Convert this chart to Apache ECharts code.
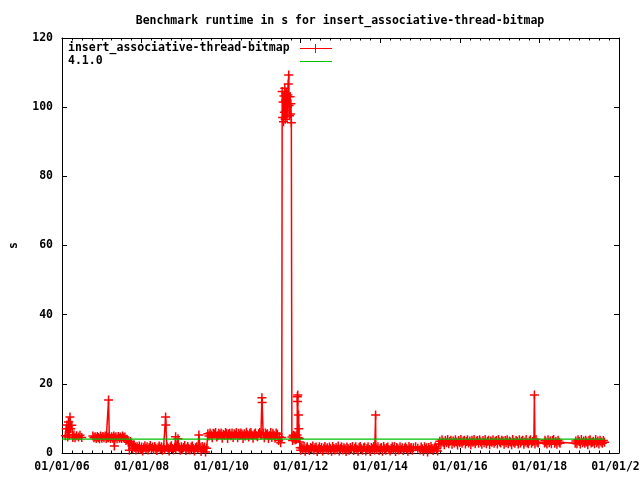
<!DOCTYPE html>
<html><head><meta charset="utf-8">
<script src="https://cdn.jsdelivr.net/npm/echarts@6/dist/echarts.min.js"></script>
<style>html,body{margin:0;padding:0;background:#fff}#c{width:640px;height:480px}</style>
</head><body><div id="c"></div>
<script>
const titleText = 'Benchmark runtime in s for insert_associative-thread-bitmap';
const seriesName = 'insert_associative-thread-bitmap';
const baselineName = '4.1.0';
const yAxisName = 's';
const xTickYears = [2006, 2008, 2010, 2012, 2014, 2016, 2018, 2020];
const xTickLabels = ['01/01/06', '01/01/08', '01/01/10', '01/01/12', '01/01/14', '01/01/16', '01/01/18', '01/01/20'];
const yTickValues = [0, 20, 40, 60, 80, 100, 120];

const runDates = [
  '2006-02-01','2006-02-08','2006-02-15','2006-02-22','2006-03-01','2006-03-08','2006-03-15','2006-03-22',
  '2006-04-01','2006-04-10','2006-04-20','2006-05-01','2006-05-15','2006-06-01','2006-06-15','2006-07-01','2006-08-01',
  '2006-10-11','2006-10-21','2006-11-01','2006-11-11','2006-11-21','2006-12-01','2006-12-11','2006-12-21',
  '2007-01-01','2007-01-11','2007-01-21','2007-02-01','2007-02-11','2007-02-21','2007-03-01','2007-03-04','2007-03-11','2007-03-21',
  '2007-04-01','2007-04-11','2007-04-21','2007-04-26','2007-05-01','2007-05-11','2007-05-21','2007-06-01','2007-06-11','2007-06-21',
  '2007-07-01','2007-07-11','2007-07-21','2007-08-01','2007-08-11','2007-08-21','2007-09-01','2007-09-11','2007-09-21','2007-10-01','2007-10-11','2007-10-21',
  '2007-11-01','2007-11-11','2007-11-21','2007-12-01','2007-12-11','2007-12-21',
  '2008-01-01','2008-01-11','2008-01-21','2008-02-01','2008-02-11','2008-02-21','2008-03-01','2008-03-11','2008-03-21','2008-04-01','2008-04-11','2008-04-21',
  '2008-05-01','2008-05-11','2008-05-21','2008-06-01','2008-06-11','2008-06-21','2008-07-01','2008-07-11','2008-07-21','2008-08-01','2008-08-09','2008-08-11','2008-08-21',
  '2008-09-01','2008-09-11','2008-09-21','2008-10-01','2008-10-11','2008-10-21','2008-11-01','2008-11-09','2008-11-11','2008-11-21','2008-12-01','2008-12-11','2008-12-21',
  '2009-01-01','2009-01-11','2009-01-21','2009-02-01','2009-02-11','2009-02-21','2009-03-01','2009-03-11','2009-03-21','2009-04-01','2009-04-11','2009-04-21',
  '2009-05-01','2009-05-11','2009-05-21','2009-06-01','2009-06-11','2009-06-21','2009-07-01','2009-07-11','2009-07-21','2009-08-01','2009-08-11','2009-08-21',
  '2009-09-01','2009-09-11','2009-09-21','2009-10-01','2009-10-11','2009-10-21','2009-11-01','2009-11-11','2009-11-21','2009-12-01','2009-12-11','2009-12-21',
  '2010-01-01','2010-01-11','2010-01-21','2010-02-01','2010-02-11','2010-02-21','2010-03-01','2010-03-11','2010-03-21','2010-04-01','2010-04-11','2010-04-21',
  '2010-05-01','2010-05-11','2010-05-21','2010-06-01','2010-06-11','2010-06-21','2010-07-01','2010-07-11','2010-07-21','2010-08-01','2010-08-11','2010-08-21',
  '2010-09-01','2010-09-11','2010-09-21','2010-10-01','2010-10-11','2010-10-21','2010-11-01','2010-11-11','2010-11-21','2010-12-01','2010-12-11','2010-12-21',
  '2011-01-01','2011-01-10','2011-01-12','2011-01-21','2011-02-01','2011-02-11','2011-02-21','2011-03-01','2011-03-11','2011-03-21',
  '2011-04-01','2011-04-11','2011-04-21','2011-05-01','2011-05-11','2011-05-21','2011-06-01','2011-06-11','2011-06-21','2011-07-01','2011-07-11',
  '2011-07-15','2011-07-19','2011-07-23','2011-07-27','2011-07-31','2011-08-04','2011-08-08','2011-08-12','2011-08-16','2011-08-20','2011-08-24',
  '2011-08-28','2011-09-01','2011-09-05','2011-09-09','2011-09-13','2011-09-17','2011-09-21','2011-09-25','2011-09-29','2011-10-03','2011-10-07',
  '2011-10-12','2011-10-18','2011-10-24','2011-10-30','2011-11-05','2011-11-11','2011-11-17','2011-11-23','2011-11-29',
  '2011-12-01','2011-12-03','2011-12-05','2011-12-08','2011-12-12','2011-12-15','2011-12-19','2011-12-23','2011-12-27',
  '2012-01-01','2012-01-11','2012-01-21','2012-02-01','2012-02-11','2012-02-21','2012-03-01','2012-03-11','2012-03-21','2012-04-01','2012-04-11','2012-04-21',
  '2012-05-01','2012-05-11','2012-05-21','2012-06-01','2012-06-11','2012-06-21','2012-07-01','2012-07-11','2012-07-21','2012-08-01','2012-08-11','2012-08-21',
  '2012-09-01','2012-09-11','2012-09-21','2012-10-01','2012-10-11','2012-10-21','2012-11-01','2012-11-11','2012-11-21','2012-12-01','2012-12-11','2012-12-21',
  '2013-01-01','2013-01-11','2013-01-21','2013-02-01','2013-02-11','2013-02-21','2013-03-01','2013-03-11','2013-03-21','2013-04-01','2013-04-11','2013-04-21',
  '2013-05-01','2013-05-11','2013-05-21','2013-06-01','2013-06-11','2013-06-21','2013-07-01','2013-07-11','2013-07-21','2013-08-01','2013-08-11','2013-08-21',
  '2013-09-01','2013-09-11','2013-09-21','2013-10-01','2013-10-11','2013-10-21','2013-11-01','2013-11-11','2013-11-19','2013-11-21','2013-12-01','2013-12-11','2013-12-21',
  '2014-01-01','2014-01-11','2014-01-21','2014-02-01','2014-02-11','2014-02-21','2014-03-01','2014-03-11','2014-03-21','2014-04-01','2014-04-11','2014-04-21',
  '2014-05-01','2014-05-11','2014-05-21','2014-06-01','2014-06-11','2014-06-21','2014-07-01','2014-07-11','2014-07-21','2014-08-01','2014-08-11','2014-08-21',
  '2014-09-01','2014-09-11','2014-09-21','2014-10-01','2014-10-11','2014-10-21','2014-11-01','2014-11-21','2014-12-11',
  '2015-01-01','2015-01-11','2015-01-21','2015-02-01','2015-02-11','2015-02-21','2015-03-01','2015-03-11','2015-03-21',
  '2015-04-01','2015-04-11','2015-04-21','2015-05-01','2015-05-11','2015-05-21','2015-06-01','2015-06-11','2015-06-21',
  '2015-07-01','2015-07-11','2015-07-21','2015-08-01','2015-08-11','2015-08-21','2015-09-01','2015-09-11','2015-09-21','2015-10-01','2015-10-11','2015-10-21','2015-11-01','2015-11-11','2015-11-21','2015-12-01','2015-12-11','2015-12-21',
  '2016-01-01','2016-01-11','2016-01-21','2016-02-01','2016-02-11','2016-02-21','2016-03-01','2016-03-11','2016-03-21','2016-04-01','2016-04-11','2016-04-21','2016-05-01','2016-05-11','2016-05-21','2016-06-01','2016-06-11','2016-06-21',
  '2016-07-01','2016-07-11','2016-07-21','2016-08-01','2016-08-11','2016-08-21','2016-09-01','2016-09-11','2016-09-21','2016-10-01','2016-10-11','2016-10-21','2016-11-01','2016-11-11','2016-11-21','2016-12-01','2016-12-11','2016-12-21',
  '2017-01-01','2017-01-11','2017-01-21','2017-02-01','2017-02-11','2017-02-21','2017-03-01','2017-03-11','2017-03-21','2017-04-01','2017-04-11','2017-04-21','2017-05-01','2017-05-11','2017-05-21','2017-06-01','2017-06-11','2017-06-21',
  '2017-07-01','2017-07-11','2017-07-21','2017-08-01','2017-08-11','2017-08-21','2017-09-01','2017-09-11','2017-09-21','2017-10-01','2017-10-11','2017-10-21','2017-11-01','2017-11-11','2017-11-16','2017-11-21','2017-12-01','2017-12-11','2017-12-21',
  '2018-02-17','2018-02-21','2018-03-01','2018-03-11','2018-03-21','2018-04-01','2018-04-11','2018-04-21','2018-05-01','2018-05-11','2018-05-21','2018-06-01','2018-06-11','2018-06-21','2018-07-01','2018-07-09',
  '2018-11-25','2018-12-01','2018-12-11','2018-12-21',
  '2019-01-01','2019-01-11','2019-01-21','2019-02-01','2019-02-11','2019-02-21','2019-03-01','2019-03-11','2019-03-21','2019-04-01','2019-04-11','2019-04-21',
  '2019-05-01','2019-05-11','2019-05-21','2019-06-01','2019-06-11','2019-06-21','2019-07-01','2019-07-11','2019-07-21','2019-08-01','2019-08-11','2019-08-21'
];
const runSeconds = [
  5.0, 7.0, 8.1, 4.6, 9.0, 5.2, 10.4, 7.0,
  8.0, 4.5, 5.2, 4.4, 5.0, 4.6, 5.1, 4.5, null,
  4.9, 4.4, 4.7, 4.2, 4.8, 4.5, 4.1, 4.9,
  4.3, 4.8, 4.4, 4.9, 4.2, 4.6, 4.4, 15.3, 4.8, 4.2,
  4.7, 4.3, 4.9, 2.0, 4.4, 4.7, 4.1, 4.8, 4.3, 4.6,
  4.2, 4.9, 4.4, 4.6, 3.6, 4.0, 3.1, 0.8, 3.3, 2.8, 1.2, 2.4,
  1.6, 0.9, 1.8, 1.3, 2.0, 1.1,
  1.7, 0.6, 1.5, 2.1, 1.2, 1.8, 0.9, 1.6, 2.2, 1.3, 1.7, 1.0,
  1.9, 1.4, 0.7, 1.5, 2.0, 1.2, 1.8, 0.8, 1.6, 1.1, 10.4, 8.1, 1.9,
  1.4, 0.6, 1.7, 2.1, 1.3, 0.9, 1.6, 4.7, 1.2, 2.0, 4.1, 1.5, 0.8,
  1.8, 1.1, 1.6, 2.2, 0.7, 1.4, 1.9, 1.2, 0.9, 1.7, 2.0, 1.3,
  0.6, 1.5, 1.8, 1.1, 5.2, 1.6, 0.4, 1.9, 1.2, 1.7, 0.3, 1.4,
  5.6, 4.9, 5.8, 5.2, 4.4, 5.7, 5.5, 5.9, 4.6, 5.0, 5.7, 5.3,
  5.8, 4.3, 5.4, 5.1, 5.9, 5.6, 4.2, 5.5, 5.7, 5.0, 5.8, 4.5,
  5.6, 5.2, 5.9, 4.4, 5.7, 5.1, 5.8, 5.4, 4.2, 5.6, 4.9, 6.0,
  5.3, 4.6, 5.7, 5.9, 5.1, 4.3, 5.5, 5.8, 5.0, 4.7, 5.6, 5.9,
  5.2, 16.0, 14.6, 5.7, 4.4, 5.8, 5.3, 5.6, 4.2, 5.0,
  5.9, 4.5, 5.7, 5.1, 4.3, 5.8, 5.4, 3.6, 4.6, 3.0, 4.5,
  104.5, 97.0, 101.5, 95.8, 103.2, 98.5, 105.5, 96.5, 102.0, 99.0, 104.0,
  97.2, 100.0, 103.5, 106.7, 109.3, 100.5, 97.5, 103.0, 98.0, 101.0, 95.5,
  4.6, 3.6, 5.1, 4.2, 5.0, 3.8, 4.7, 4.0, 5.2,
  16.3, 14.9, 16.8, 4.4, 11.0, 7.0, 4.2, 3.2, 1.5,
  0.8, 1.6, 1.2, 1.9, 0.5, 1.4, 1.8, 1.1, 0.7, 1.6, 1.3, 2.0,
  0.9, 1.5, 1.7, 0.4, 1.2, 1.8, 1.0, 1.6, 0.6, 1.4, 1.9, 1.1,
  1.5, 0.8, 1.7, 1.2, 0.5, 1.9, 1.3, 0.9, 1.6, 1.1, 2.0, 0.6,
  1.4, 1.8, 0.9, 1.5, 1.2, 0.4, 1.7, 1.3, 0.8, 1.6, 1.0, 1.9,
  0.7, 1.4, 1.8, 1.1, 0.5, 1.6, 1.9, 1.2, 0.8, 1.5, 1.7, 0.6,
  1.3, 1.8, 1.0, 0.4, 1.6, 1.2, 1.9, 0.9, 11.0, 1.5, 1.1, 1.8, 0.7,
  1.4, 1.6, 0.5, 1.9, 1.2, 0.8, 1.5, 1.7, 1.0, 0.6, 1.3, 1.8,
  1.1, 1.9, 0.4, 1.6, 1.2, 0.9, 1.8, 1.0, 1.5, 0.7, 1.4, 1.7,
  1.2, 0.5, 1.9, 1.3, 1.6, 0.8, 1.5, 1.8, 1.4,
  0.9, 1.7, 1.2, 0.5, 1.8, 1.1, 1.5, 0.3, 1.6,
  1.0, 1.9, 1.3, 0.7, 1.4, 1.8, 1.2, 0.6, 2.6,
  3.4, 2.6, 3.8, 3.1, 2.4, 3.6, 3.0, 3.9, 2.7, 3.3, 3.7, 2.5, 3.5, 2.9, 3.8, 3.2, 2.3, 3.6,
  3.0, 3.9, 2.8, 3.4, 3.7, 2.6, 3.3, 3.8, 2.9, 3.5, 2.4, 3.7, 3.1, 3.9, 2.7, 3.4, 3.6, 2.8,
  3.8, 3.2, 2.5, 3.6, 3.0, 3.9, 2.7, 3.4, 3.7, 2.4, 3.5, 3.1, 3.8, 2.8, 3.3, 3.6, 2.6, 3.9,
  3.2, 2.9, 3.7, 3.4, 2.5, 3.6, 3.0, 3.8, 2.7, 3.5, 3.2, 2.4, 3.9, 3.1, 2.8, 3.6, 3.3, 2.6,
  3.8, 2.9, 3.4, 3.7, 2.5, 3.2, 3.9, 3.0, 2.7, 3.5, 3.8, 2.8, 3.3, 3.6, 16.8, 2.6, 3.9, 3.1, 2.9,
  2.9, 3.7, 3.2, 2.6, 3.8, 3.0, 3.5, 2.7, 3.6, 3.9, 2.8, 3.3, 2.5, 3.7, 3.1, 2.8,
  2.8, 3.5, 2.7, 3.8,
  3.3, 2.6, 3.9, 3.0, 3.5, 2.8, 3.7, 3.2, 2.4, 3.6, 3.8, 2.9,
  3.1, 3.4, 2.7, 3.9, 3.0, 3.5, 2.6, 3.7, 3.2, 2.8, 3.6, 3.1
];
const baselineDates = ['2006-01-01', '2019-08-21'];
const baselineSeconds = [4.0, 4.0];

function toYear(s) {
  const p = s.split('-').map(Number);
  const t = Date.UTC(p[0], p[1] - 1, p[2]);
  const a = Date.UTC(p[0], 0, 1), b = Date.UTC(p[0] + 1, 0, 1);
  return p[0] + (t - a) / (b - a);
}
const FONT = "'DejaVu Sans Mono', 'Liberation Mono', monospace";
const txt = { color: '#000', fontFamily: FONT, fontWeight: 'bold', fontSize: 11.5 };
const n = Math.min(runDates.length, runSeconds.length);
const runData = [];
for (let i = 0; i < n; i++) runData.push([toYear(runDates[i]), runSeconds[i] === null ? '-' : runSeconds[i]]);
const baseData = baselineDates.map((d, i) => [toYear(d), baselineSeconds[i]]);
const plus = 'path://M3.75,0H5.25V3.75H9V5.25H5.25V9H3.75V5.25H0V3.75H3.75Z';

function xLabel(v) {
  const i = xTickYears.indexOf(Math.round(v));
  return i >= 0 ? xTickLabels[i] : '';
}
const blackLine = { lineStyle: { color: '#000', width: 1 } };
const xBase = { type: 'value', min: xTickYears[0], max: xTickYears[xTickYears.length - 1], interval: 2,
  splitLine: { show: false }, axisLine: Object.assign({ show: true, onZero: false }, blackLine),
  axisTick: Object.assign({ show: true, inside: true, length: 5 }, blackLine),
  minorTick: Object.assign({ show: true, splitNumber: 8, length: 2.5 }, blackLine) };
const yBase = { type: 'value', min: yTickValues[0], max: yTickValues[yTickValues.length - 1], interval: 20,
  splitLine: { show: false }, axisLine: Object.assign({ show: true, onZero: false }, blackLine),
  axisTick: Object.assign({ show: true, inside: true, length: 5 }, blackLine) };

const chart = echarts.init(document.getElementById('c'), null, { renderer: 'canvas' });
chart.setOption({
  animation: false,
  backgroundColor: '#fff',
  title: { text: titleText, left: 340, top: 15, padding: 0, textAlign: 'center',
    textStyle: Object.assign({}, txt) },
  grid: { left: 62, right: 21, top: 38, bottom: 27, containLabel: false, outerBoundsMode: 'none' },
  xAxis: [
    Object.assign({}, xBase, { position: 'bottom',
      axisLabel: Object.assign({ margin: 8, formatter: xLabel, showMinLabel: true, showMaxLabel: true }, txt) }),
    Object.assign({}, xBase, { position: 'top', axisLabel: { show: false } })
  ],
  yAxis: [
    Object.assign({}, yBase, { position: 'left', name: yAxisName, nameLocation: 'middle', nameRotate: 90, nameGap: 42,
      nameTextStyle: Object.assign({}, txt), axisLabel: Object.assign({ margin: 9 }, txt) }),
    Object.assign({}, yBase, { position: 'right', axisLabel: { show: false } })
  ],
  series: [
    { name: seriesName, type: 'line', xAxisIndex: 0, yAxisIndex: 0, data: runData,
      symbol: plus, symbolSize: 9, connectNulls: false, clip: false,
      lineStyle: { color: '#ff0000', width: 1.5 }, itemStyle: { color: '#ff0000' }, z: 2 },
    { name: baselineName, type: 'line', xAxisIndex: 0, yAxisIndex: 0, data: baseData,
      symbol: 'none', lineStyle: { color: '#00c000', width: 1.2 }, itemStyle: { color: '#00c000' }, z: 5 }
  ],
  graphic: [
    { type: 'text', left: 68, top: 42, style: { text: seriesName, fill: '#000', font: "bold 11.5px " + FONT } },
    { type: 'text', left: 68, top: 55.5, style: { text: baselineName, fill: '#000', font: "bold 11.5px " + FONT } },
    { type: 'line', shape: { x1: 300, y1: 48.5, x2: 332, y2: 48.5 }, style: { stroke: '#ff0000', lineWidth: 1 } },
    { type: 'line', shape: { x1: 315.5, y1: 44, x2: 315.5, y2: 53 }, style: { stroke: '#ff0000', lineWidth: 1 } },
    { type: 'line', shape: { x1: 300, y1: 61.5, x2: 332, y2: 61.5 }, style: { stroke: '#00c000', lineWidth: 1 } }
  ]
});
</script>
</body></html>
